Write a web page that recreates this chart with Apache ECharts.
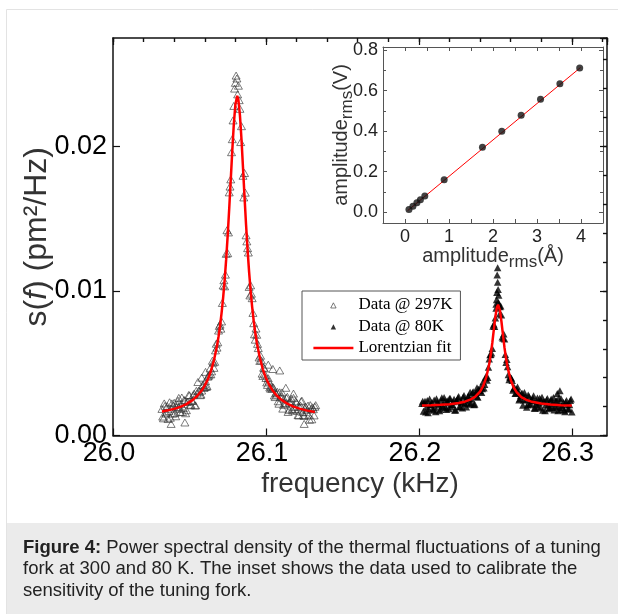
<!DOCTYPE html>
<html><head><meta charset="utf-8">
<script src="https://cdn.jsdelivr.net/npm/echarts@6/dist/echarts.min.js"></script>
<style>html,body{margin:0;padding:0;background:#fff}#c{width:618px;height:614px}</style>
</head><body><div id="c"></div>
<script>
// ---------- data ----------
const freq297 = [26.032,26.033,26.034,26.035,26.036,26.037,26.038,26.039,26.040,26.041,
26.042,26.043,26.044,26.045,26.046,26.047,26.048,26.049,26.050,26.051,
26.052,26.053,26.054,26.055,26.056,26.057,26.058,26.059,26.060,26.061,
26.062,26.063,26.064,26.065,26.066,26.067,26.068,26.069,26.070,26.071,
26.072,26.073,26.074,26.075,26.076,26.077,26.078,26.079,26.080,26.081,
26.082,26.083,26.084,26.085,26.086,26.087,26.088,26.089,26.090,26.091,
26.092,26.093,26.094,26.095,26.096,26.097,26.098,26.099,26.100,26.101,
26.102,26.103,26.104,26.105,26.106,26.107,26.108,26.109,26.110,26.111,
26.112,26.113,26.114,26.115,26.116,26.117,26.118,26.119,26.120,26.121,
26.122,26.123,26.124,26.125,26.126,26.127,26.128,26.129,26.130,26.131,
26.132];
const psd297 = [.00184,.00119,.00205,.0016,.00114,.0023,.00185,.00151,.00226,.00133,
.00215,.00195,.00162,.00263,.00189,.00242,.00175,.00235,.00278,.00213,
.00239,.00289,.00208,.00291,.0031,.00279,.00311,.0035,.00335,.00336,
.00407,.00423,.00423,.00517,.00468,.00589,.00608,.00726,.00767,.00789,
.01038,.01032,.01257,.01261,.01682,.01772,.0205,.0228,.0244,.0247,
.0242,.0226,.0214,.01797,.01816,.01385,.01296,.01028,.01039,.0095,
.00777,.00663,.00697,.00605,.00516,.0052,.00412,.00464,.00398,.0035,
.00374,.00324,.00323,.00329,.00266,.00283,.00237,.00299,.00272,.00186,
.00251,.0022,.00268,.00178,.00239,.00181,.0026,.00184,.00228,.00141,
.00198,.00236,.00162,.00135,.00199,.00178,.0014,.0021,.00112,.00182,
.00199];
const freq297Extra = [26.0325,26.0335,26.0345,26.0355,26.0365,26.0375,26.0385,26.0395,26.0405,26.0415,26.0425,26.0435,26.0445,26.0455,26.0465,26.0475,26.0485,26.0495,26.0505,26.0515,26.0525,26.0535,26.0545,
26.0565,26.0575,26.0585,26.0595,26.0605,26.0615,26.0625,26.0635,26.0645,26.0655,26.0665,26.0675,26.0685,26.0695,26.0705,26.0715,26.0725,26.0735,26.0745,26.0755,26.0765,
26.0795,26.0805,26.0815,26.0785,26.0825,26.0775,26.0835,
26.0855,26.0865,26.0875,26.0885,26.0895,26.0905,26.0915,26.0925,26.0935,26.0945,26.0955,26.0965,26.0975,26.0985,26.0995,26.1005,26.1015,26.1025,26.1035,26.1045,26.1055,26.1065,
26.1075,26.1085,26.1095,26.1105,26.1115,26.1125,26.1135,26.1145,26.1155,26.1165,26.1175,26.1185,26.1195,26.1205,26.1215,26.1225,26.1235,26.1245,26.1255,26.1265,26.1275,26.1285,26.1295,26.1305,26.1315,26.1325,
26.1045,26.109,26.1015,26.0555,26.058,26.0605,26.113,26.118,26.043,26.038,26.047,26.125];
const psd297Extra = [.00131,.00222,.00152,.00203,.00169,.00123,.00222,.00206,.00155,.00195,.00241,.00184,.00218,.00163,.00246,.00154,.00232,.0028,.00209,.00241,.00279,.00209,.00309,
.00302,.00283,.00348,.00329,.00376,.00342,.00413,.00464,.00444,.00504,.0051,.00635,.00645,.00758,.00739,.00917,.01074,.01113,.0142,.01405,.01722,
.0240,.0249,.0236,.0218,.0232,.0196,.0203,
.01647,.0168,.01343,.01266,.00969,.00981,.00848,.007,.0074,.00634,.0054,.00552,.00428,.00469,.0042,.00367,.00396,.00333,.00341,.00335,.00277,.00294,
.00302,.0022,.00264,.00298,.00212,.00224,.00259,.00163,.0023,.00255,.00172,.00198,.00236,.00172,.00139,.00208,.00241,.00142,.00188,.00161,.00207,.00109,.00185,.00195,.00139,.0021,
.0046,.0045,.0049,.0037,.0040,.0044,.0033,.0029,.0026,.0008,.0009,.0008];

const freq80 = [26.202,26.203,26.204,26.205,26.206,26.207,26.208,26.209,26.210,26.211,
26.212,26.213,26.214,26.215,26.216,26.217,26.218,26.219,26.220,26.221,
26.222,26.223,26.224,26.225,26.226,26.227,26.228,26.229,26.230,26.231,
26.232,26.233,26.234,26.235,26.236,26.237,26.238,26.239,26.240,26.241,
26.242,26.243,26.244,26.245,26.246,26.247,26.248,26.249,26.250,26.251,
26.252,26.253,26.254,26.255,26.256,26.257,26.258,26.259,26.260,26.261,
26.262,26.263,26.264,26.265,26.266,26.267,26.268,26.269,26.270,26.271,
26.272,26.273,26.274,26.275,26.276,26.277,26.278,26.279,26.280,26.281,
26.282,26.283,26.284,26.285,26.286,26.287,26.288,26.289,26.290,26.291,
26.292,26.293,26.294,26.295,26.296,26.297,26.298,26.299,26.300];
const psd80 = [.00222,.00167,.00237,.00198,.00158,.00253,.00214,.00184,.00245,.00165,
.00231,.00211,.00182,.00262,.00198,.00239,.0018,.00225,.00256,.00197,
.00214,.0025,.00176,.00238,.0027,.00197,.00229,.00266,.00219,.00197,
.00266,.00255,.00225,.00295,.00212,.0029,.00269,.0032,.00307,.00298,
.00372,.00352,.00412,.00401,.00529,.0056,.00602,.00769,.00813,.0099,
.0092,.0089,.00834,.00673,.00667,.00505,.00476,.00385,.00401,.00381,
.00325,.00291,.00322,.003,.00255,.00291,.00209,.00298,.00248,.00213,
.00269,.00221,.00243,.00275,.00188,.00231,.00199,.00257,.00241,.00174,
.00233,.00212,.00256,.00185,.00239,.00193,.00263,.00202,.00241,.00171,
.0022,.00255,.00194,.00174,.00229,.00213,.00183,.00243,.00162];
const freq80Extra = [26.2025,26.2035,26.2045,26.2055,26.2065,26.2075,26.2085,26.2095,26.2105,26.2115,
26.2125,26.2135,26.2145,26.2155,26.2165,26.2175,26.2185,26.2195,26.2205,26.2215,
26.2225,26.2235,26.2245,26.2255,26.2265,26.2275,26.2285,26.2295,26.2305,26.2315,
26.2325,26.2335,26.2345,26.2355,26.2365,26.2375,26.2385,26.2395,26.2405,26.2415,
26.2425,26.2435,26.2445,26.2455,26.2465,26.2475,26.2485,26.2495,26.2505,26.2515,
26.2525,26.2535,26.2545,26.2555,26.2565,26.2575,26.2585,26.2595,26.2605,26.2615,
26.2625,26.2635,26.2645,26.2655,26.2665,26.2675,26.2685,26.2695,26.2705,26.2715,
26.2725,26.2735,26.2745,26.2755,26.2765,26.2775,26.2785,26.2795,26.2805,26.2815,
26.2825,26.2835,26.2845,26.2855,26.2865,26.2875,26.2885,26.2895,26.2905,26.2915,
26.2925,26.2935,26.2945,26.2955,26.2965,26.2975,26.2985,26.2995,
26.2515,26.2512,26.2518,26.2508,26.2522,26.2505,26.2528,26.2922,26.2905,26.2335,26.238];
const psd80Extra = [.00237,.00222,.00162,.00243,.00183,.00213,.00229,.00175,.00195,.00255,
.00221,.00171,.00242,.00202,.00263,.00194,.0024,.00185,.00256,.00213,
.00234,.00175,.00242,.00259,.00201,.00233,.0019,.00277,.00245,.00224,
.00273,.00217,.00252,.00303,.00216,.00299,.00264,.00312,.00337,.00323,
.00328,.00398,.00382,.00472,.00559,.0057,.00755,.00754,.00908,.0106,
.00903,.00896,.00682,.00702,.00561,.00525,.0042,.00404,.00396,.00313,
.00332,.00293,.00336,.00245,.00275,.00292,.00246,.0027,.00195,.00281,
.00212,.00244,.00256,.00189,.00212,.0026,.00223,.00191,.00265,.00233,
.00172,.00246,.0021,.00194,.00253,.00223,.00177,.00237,.00196,.0026,
.0018,.0021,.00229,.00164,.00243,.00183,.00213,.00252,
.0116,.0111,.0101,.0094,.0097,.0088,.0084,.0031,.0029,.0030,.0033];

const fit297Freq = [26.032,26.036,26.040,26.044,26.048,26.052,26.055,26.058,26.060,26.062,26.064,26.066,26.068,26.069,26.070,26.071,26.072,26.073,26.074,26.075,26.076,26.077,26.078,26.079,26.080,26.0812,26.082,26.083,26.084,26.085,26.086,26.087,26.088,26.089,26.090,26.091,26.092,26.093,26.094,26.096,26.098,26.100,26.102,26.104,26.107,26.110,26.114,26.118,26.122,26.127,26.132];
const fit297Psd = [0.00166,0.00174,0.00184,0.00198,0.00217,0.00245,0.00273,0.00311,0.00345,0.00388,0.00445,0.0052,0.0062,0.00685,0.00759,0.00848,0.00952,0.01075,0.0122,0.01386,0.01572,0.01772,0.01973,0.02155,0.02288,0.0235,0.02322,0.02215,0.02051,0.01853,0.01651,0.01458,0.01283,0.0113,0.00999,0.00888,0.00793,0.00713,0.00645,0.00537,0.00458,0.00398,0.00353,0.00317,0.00277,0.00248,0.0022,0.002,0.00186,0.00172,0.00163];
const fit80Freq = [26.202,26.208,26.214,26.220,26.226,26.230,26.234,26.237,26.240,26.242,26.244,26.246,26.247,26.248,26.249,26.250,26.251,26.2518,26.253,26.254,26.255,26.256,26.257,26.258,26.260,26.262,26.264,26.267,26.270,26.274,26.280,26.286,26.293,26.300];
const fit80Psd = [0.00207,0.00209,0.00212,0.00216,0.00225,0.00234,0.0025,0.0027,0.00304,0.00341,0.004,0.00494,0.0056,0.0064,0.00732,0.00821,0.00887,0.00905,0.00865,0.00787,0.00694,0.00606,0.00532,0.00471,0.00386,0.00332,0.00298,0.00266,0.00248,0.00233,0.00221,0.00214,0.0021,0.00207];

const insetX = [0.09,0.18,0.27,0.35,0.45,0.89,1.76,2.20,2.64,3.08,3.52,3.97];
const insetY = [0.013,0.029,0.047,0.062,0.080,0.160,0.320,0.400,0.479,0.557,0.634,0.712];
const insetFitX = [0.06,3.99];
const insetFitY = [0.008,0.714];

const mainXTicks = ['26.0','26.1','26.2','26.3'];
const mainYTicks = ['0.00','0.01','0.02'];
const insetXTicks = ['0','1','2','3','4'];
const insetYTicks = ['0.0','0.2','0.4','0.6','0.8'];
const legendNames = ['Data @ 297K', 'Data @ 80K', 'Lorentzian fit'];

// ---------- chart ----------
const SANS = 'Liberation Sans, Arial, sans-serif';
const SERIF = 'Liberation Serif, Times New Roman, serif';
function zip(a, b) { return a.map((v, i) => [v, b[i]]); }
function near(v, step) { return Math.abs(v / step - Math.round(v / step)) < 1e-6; }
function pick(list, v, digits) { const s = v.toFixed(digits); return list.indexOf(s) >= 0 ? s : ''; }

const AX = '#111';
function axis(o) {
  return Object.assign({
    type: 'value', splitLine: { show: false }, nameMoveOverlap: false,
    axisLine: { show: true, onZero: false, lineStyle: { color: AX, width: 1.5 } },
    axisTick: { show: true, inside: true, length: 7, lineStyle: { color: AX, width: 1.2 } },
    axisLabel: { show: false }
  }, o);
}
const chart = echarts.init(document.getElementById('c'), null, { renderer: 'canvas' });
const mainXLabel = { show: true, fontFamily: SANS, fontSize: 27, color: '#000', margin: 5, padding: [0, 8, 0, 0],
  showMaxLabel: false, formatter: v => near(v, 0.1) ? pick(mainXTicks, v, 1) : '' };
const mainYLabel = { show: true, fontFamily: SANS, fontSize: 27, color: '#000', margin: 6,
  showMaxLabel: false, formatter: v => near(v, 0.01) ? pick(mainYTicks, v, 2) : '' };
const IX = '#555';
function inset(o) {
  return axis(Object.assign({ gridIndex: 1,
    axisLine: { show: true, onZero: false, lineStyle: { color: IX, width: 1 } },
    axisTick: { show: true, inside: true, length: 4, lineStyle: { color: IX, width: 1 } } }, o));
}
const TRI = 'path://M0,0 M40,7 M17.3,6.5 L20,1.3 L22.7,6.5 Z';
const BAR = 'path://M0,0 M40,7 M0,2.3 L40,2.3 L40,4.7 L0,4.7 Z';

chart.setOption({
  animation: false,
  backgroundColor: '#fff',
  graphic: [
    { type: 'rect', z: -10, silent: true, shape: { x: 6.5, y: 9.5, width: 640, height: 640 },
      style: { fill: '#fff', stroke: '#e3e3e3', lineWidth: 1 } },
    { type: 'rect', z: -9, silent: true, shape: { x: 7, y: 523, width: 611, height: 91 },
      style: { fill: '#ebebeb' } },
    { type: 'text', z: -8, silent: true, x: 23, y: 537,
      style: { text: '{b|Figure 4:} Power spectral density of the thermal fluctuations of a tuning\nfork at 300 and 80 K. The inset shows the data used to calibrate the\nsensitivity of the tuning fork.',
        fill: '#222', fontSize: 18.5, fontFamily: SANS, lineHeight: 21.5, verticalAlign: 'top',
        rich: { b: { fontWeight: 'bold', fontSize: 18.5, fontFamily: SANS, fill: '#222', lineHeight: 21.5 } } } }
  ],
  grid: [
    { left: 113, top: 38, right: 11, bottom: 178.5, containLabel: false },
    { left: 383, top: 47, right: 15, bottom: 391, containLabel: false, show: true, backgroundColor: '#fff', borderWidth: 0 }
  ],
  legend: {
    left: 302, top: 291, orient: 'vertical', padding: [5, 8, 3, 11], itemGap: 3.5,
    itemWidth: 40, itemHeight: 7, backgroundColor: '#fff', borderColor: '#555', borderWidth: 1,
    textStyle: { fontFamily: SERIF, fontSize: 17, color: '#000', lineHeight: 18 },
    data: [
      { name: legendNames[0], icon: TRI, itemStyle: { color: 'rgba(255,255,255,0)', borderColor: '#333', borderWidth: 0.8 } },
      { name: legendNames[1], icon: TRI, itemStyle: { color: '#000', borderWidth: 0 } },
      { name: legendNames[2], icon: BAR, itemStyle: { color: '#f00', borderWidth: 0 } }
    ]
  },
  xAxis: [
    axis({ gridIndex: 0, min: 26.0, max: 26.323, interval: 0.1, axisLabel: mainXLabel,
      name: 'frequency (kHz)', nameLocation: 'middle', nameGap: 35,
      nameTextStyle: { fontFamily: SANS, fontSize: 28, color: '#333' } }),
    axis({ gridIndex: 0, min: 26.0, max: 26.323, interval: 0.02, axisLine: { show: false, onZero: false },
      axisTick: { show: true, inside: true, length: 4, lineStyle: { color: AX, width: 1.2 } } }),
    axis({ gridIndex: 0, position: 'top', min: 26.0, max: 26.323, interval: 0.1 }),
    axis({ gridIndex: 0, position: 'top', min: 26.0, max: 26.323, interval: 0.02, axisLine: { show: false, onZero: false },
      axisTick: { show: true, inside: true, length: 4, lineStyle: { color: AX, width: 1.2 } } }),
    inset({ min: -0.5, max: 4.5, interval: 0.5,
      axisLabel: { show: true, fontFamily: SANS, fontSize: 18, color: '#222', margin: 5,
        formatter: v => near(v, 1) ? pick(insetXTicks, v, 0) : '' },
      name: 'amplitude{sub|rms}(Å)', nameLocation: 'middle', nameGap: 19,
      nameTextStyle: { fontFamily: SANS, fontSize: 20, color: '#333',
        rich: { sub: { fontFamily: SANS, fontSize: 17, color: '#333', padding: [12, 0, 0, 0] } } } }),
    inset({ position: 'top', min: -0.5, max: 4.5, interval: 0.5 })
  ],
  yAxis: [
    axis({ gridIndex: 0, min: 0, max: 0.0275, interval: 0.01, axisLabel: mainYLabel,
      name: 's({it|f}) (pm²/Hz)', nameLocation: 'middle', nameGap: 60,
      nameTextStyle: { fontFamily: SANS, fontSize: 32, color: '#333',
        rich: { it: { fontFamily: SANS, fontSize: 32, fontStyle: 'italic', color: '#333' } } } }),
    axis({ gridIndex: 0, min: 0, max: 0.0275, interval: 0.002, axisLine: { show: false, onZero: false },
      axisTick: { show: true, inside: true, length: 4, lineStyle: { color: AX, width: 1.2 } } }),
    axis({ gridIndex: 0, position: 'right', min: 0, max: 0.0275, interval: 0.01 }),
    axis({ gridIndex: 0, position: 'right', min: 0, max: 0.0275, interval: 0.002, axisLine: { show: false, onZero: false },
      axisTick: { show: true, inside: true, length: 4, lineStyle: { color: AX, width: 1.2 } } }),
    inset({ min: -0.053, max: 0.815, splitNumber: 4,
      minorTick: { show: true, splitNumber: 2, length: 3, lineStyle: { color: IX, width: 1 } },
      axisLabel: { show: true, fontFamily: SANS, fontSize: 18, color: '#222', margin: 5, showMinLabel: false, showMaxLabel: false,
        formatter: v => near(v, 0.2) ? pick(insetYTicks, v, 1) : '' },
      name: 'amplitude{sub|rms}(V)', nameLocation: 'middle', nameGap: 27,
      nameTextStyle: { fontFamily: SANS, fontSize: 20, color: '#333',
        rich: { sub: { fontFamily: SANS, fontSize: 17, color: '#333', padding: [12, 0, 0, 0] } } } }),
    inset({ position: 'right', min: -0.053, max: 0.815, splitNumber: 4,
      minorTick: { show: true, splitNumber: 2, length: 3, lineStyle: { color: IX, width: 1 } } })
  ],
  series: [
    { name: legendNames[0], type: 'scatter', xAxisIndex: 0, yAxisIndex: 0, symbol: 'triangle', symbolSize: [8, 7],
      itemStyle: { color: 'rgba(255,255,255,0)', borderColor: '#333', borderWidth: 0.8 },
      data: zip(freq297, psd297).concat(zip(freq297Extra, psd297Extra)), z: 2 },
    { name: legendNames[1], type: 'scatter', xAxisIndex: 0, yAxisIndex: 0, symbol: 'triangle', symbolSize: [7.5, 7],
      itemStyle: { color: '#000' },
      data: zip(freq80, psd80).concat(zip(freq80Extra, psd80Extra)), z: 2 },
    { name: legendNames[2], type: 'line', xAxisIndex: 0, yAxisIndex: 0, symbol: 'none', showSymbol: false,
      lineStyle: { color: '#f00', width: 2.5 }, itemStyle: { color: '#f00' }, data: zip(fit297Freq, fit297Psd), z: 3 },
    { name: legendNames[2], type: 'line', xAxisIndex: 0, yAxisIndex: 0, symbol: 'none', showSymbol: false,
      lineStyle: { color: '#f00', width: 2.5 }, itemStyle: { color: '#f00' }, data: zip(fit80Freq, fit80Psd), z: 3 },
    { name: 'inset fit', type: 'line', xAxisIndex: 4, yAxisIndex: 4, symbol: 'none', showSymbol: false,
      lineStyle: { color: '#f00', width: 1 }, data: zip(insetFitX, insetFitY), z: 3 },
    { name: 'inset data', type: 'scatter', xAxisIndex: 4, yAxisIndex: 4, symbol: 'circle', symbolSize: 7,
      itemStyle: { color: '#111' }, data: zip(insetX, insetY), z: 4 }
  ]
});
</script></body></html>
